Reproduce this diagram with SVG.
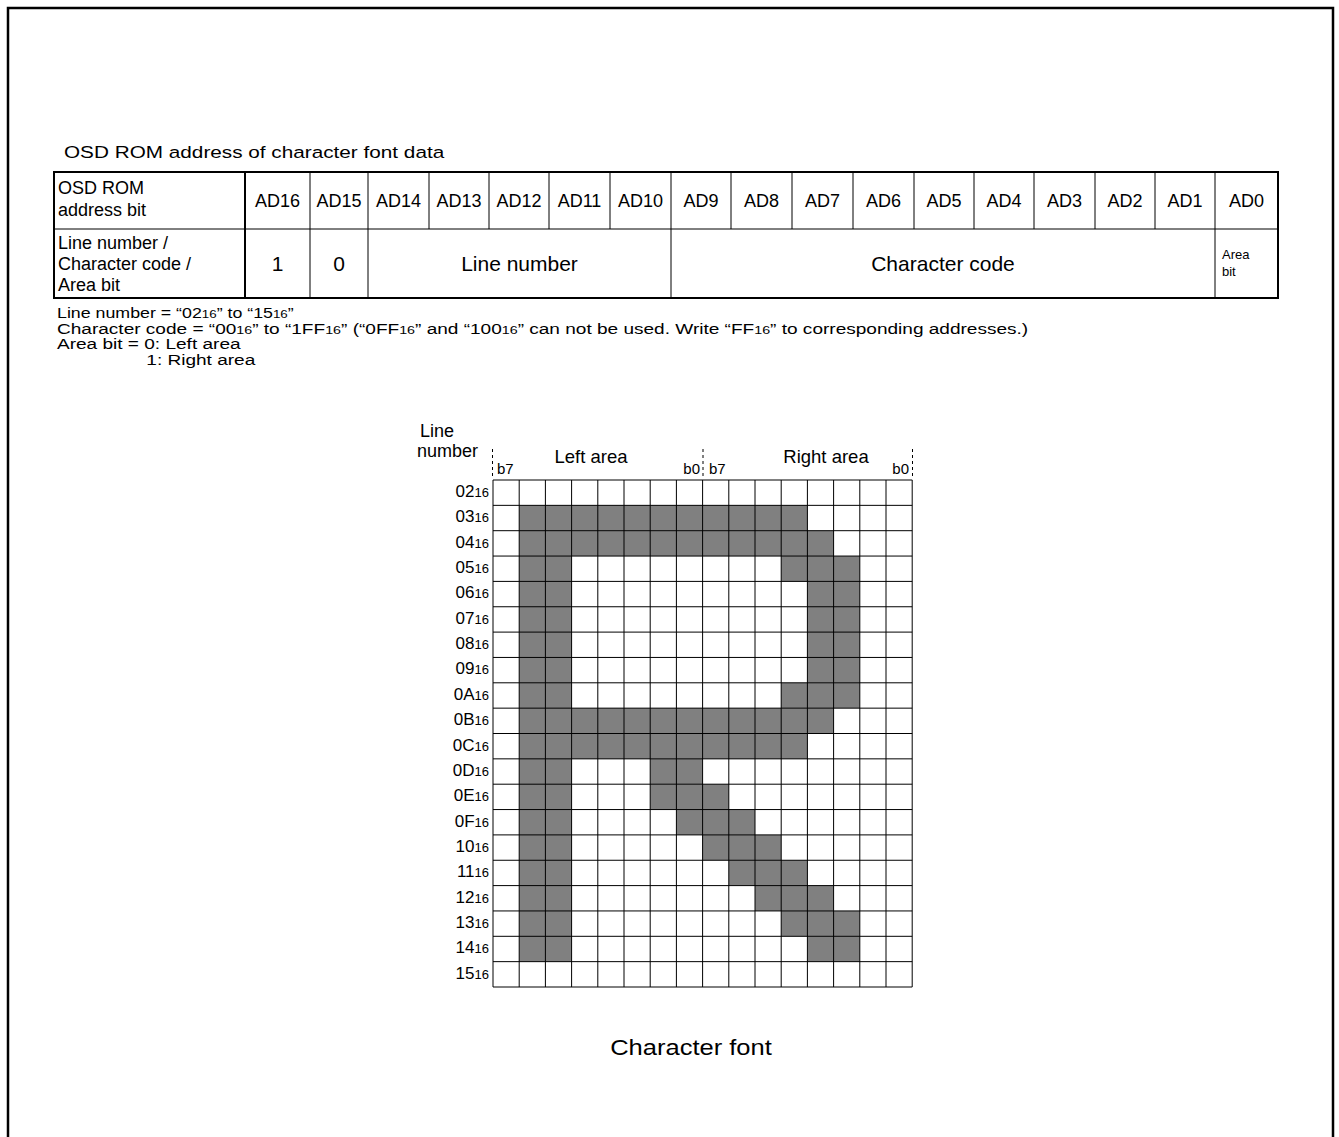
<svg xmlns="http://www.w3.org/2000/svg" width="1339" height="1137" viewBox="0 0 1339 1137">
<style>
text{font-family:"Liberation Sans",Arial,Helvetica,sans-serif;fill:#000}
.t18{font-size:18px}
.ad{font-size:18px;text-anchor:middle}
.big{font-size:21px;text-anchor:middle}
.note{font-size:14px}
.sub{font-size:10.5px}
.sub13{font-size:13px}
.small{font-size:13px}
.bit{font-size:15px}
.lbl{font-size:17px;text-anchor:end}
.hdr{font-size:18.5px;text-anchor:middle}
.thin{stroke:#000;stroke-width:1;fill:none}
.thick{stroke:#000;stroke-width:2;fill:none}
.dash{stroke:#000;stroke-width:1;stroke-dasharray:3 3;fill:none}
.on{fill:#808080}
</style>
<rect x="0" y="0" width="1339" height="1137" fill="#fff"/>
<g id="frame">
<path d="M8,1140 V8 H1333 V1140" stroke="#000" stroke-width="2.5" fill="none"/>
</g>
<g id="title">
<text transform="translate(64,158) scale(1.22,1)" style="font-size:17px">OSD ROM address of character font data</text>
</g>
<g id="address-table">
<rect x="54" y="172" width="1224" height="126" class="thick"/>
<path class="thin" d="M54,229 H1278 M310,172 V298 M368,172 V298 M671,172 V298 M1215,172 V298 M429,172 V229 M489,172 V229 M549,172 V229 M610,172 V229 M731,172 V229 M792,172 V229 M853,172 V229 M914,172 V229 M974,172 V229 M1034,172 V229 M1095,172 V229 M1155,172 V229"/>
<path class="thick" d="M245,172 V298"/>
<text class="t18" x="58" y="194">OSD ROM</text>
<text class="t18" x="58" y="216">address bit</text>
<text class="t18" x="58" y="249">Line number /</text>
<text class="t18" x="58" y="270">Character code /</text>
<text class="t18" x="58" y="291">Area bit</text>
<text class="ad" x="277.5" y="207">AD16</text>
<text class="ad" x="339" y="207">AD15</text>
<text class="ad" x="398.5" y="207">AD14</text>
<text class="ad" x="459" y="207">AD13</text>
<text class="ad" x="519" y="207">AD12</text>
<text class="ad" x="579.5" y="207">AD11</text>
<text class="ad" x="640.5" y="207">AD10</text>
<text class="ad" x="701" y="207">AD9</text>
<text class="ad" x="761.5" y="207">AD8</text>
<text class="ad" x="822.5" y="207">AD7</text>
<text class="ad" x="883.5" y="207">AD6</text>
<text class="ad" x="944" y="207">AD5</text>
<text class="ad" x="1004" y="207">AD4</text>
<text class="ad" x="1064.5" y="207">AD3</text>
<text class="ad" x="1125" y="207">AD2</text>
<text class="ad" x="1185" y="207">AD1</text>
<text class="ad" x="1246.5" y="207">AD0</text>
<text class="big" x="277.5" y="271">1</text>
<text class="big" x="339" y="271">0</text>
<text class="big" x="519.5" y="271">Line number</text>
<text class="big" x="943" y="271">Character code</text>
<text class="small" x="1222" y="259">Area</text>
<text class="small" x="1222" y="276">bit</text>
</g>
<g id="notes">
<text class="note" transform="translate(57,318) scale(1.27,1)">Line number = “02<tspan class="sub">16</tspan>” to “15<tspan class="sub">16</tspan>”</text>
<text class="note" transform="translate(57,333.7) scale(1.36,1)">Character code = “00<tspan class="sub">16</tspan>” to “1FF<tspan class="sub">16</tspan>” (“0FF<tspan class="sub">16</tspan>” and “100<tspan class="sub">16</tspan>” can not be used.  Write “FF<tspan class="sub">16</tspan>” to corresponding addresses.)</text>
<text class="note" transform="translate(57,349.4) scale(1.36,1)">Area bit = 0: Left area</text>
<text class="note" transform="translate(146.3,365.1) scale(1.36,1)">1: Right area</text>
</g>
<g id="font-grid">
<g id="grid-header">
<text style="font-size:18px" x="420" y="437">Line</text>
<text style="font-size:18px" x="417" y="457">number</text>
<path class="dash" d="M492.5,449 V476 M703,449 V476 M912.5,449 V476"/>
<text class="bit" x="497" y="474">b7</text>
<text class="hdr" x="591" y="463">Left area</text>
<text class="bit" x="700" y="474" text-anchor="end">b0</text>
<text class="bit" x="709" y="474">b7</text>
<text class="hdr" x="826" y="463">Right area</text>
<text class="bit" x="909" y="474" text-anchor="end">b0</text>
</g>
<g id="pixels">
<rect class="on" x="519.2" y="505.35" width="52.4" height="456.3"/>
<rect class="on" x="571.6" y="505.35" width="235.8" height="25.35"/>
<rect class="on" x="571.6" y="530.7" width="262" height="25.35"/>
<rect class="on" x="781.2" y="556.05" width="78.6" height="25.35"/>
<rect class="on" x="807.4" y="581.4" width="52.4" height="101.4"/>
<rect class="on" x="781.2" y="682.8" width="78.6" height="25.35"/>
<rect class="on" x="571.6" y="708.15" width="262" height="25.35"/>
<rect class="on" x="571.6" y="733.5" width="235.8" height="25.35"/>
<rect class="on" x="650.2" y="758.85" width="52.4" height="25.35"/>
<rect class="on" x="650.2" y="784.2" width="78.6" height="25.35"/>
<rect class="on" x="676.4" y="809.55" width="78.6" height="25.35"/>
<rect class="on" x="702.6" y="834.9" width="78.6" height="25.35"/>
<rect class="on" x="728.8" y="860.25" width="78.6" height="25.35"/>
<rect class="on" x="755" y="885.6" width="78.6" height="25.35"/>
<rect class="on" x="781.2" y="910.95" width="78.6" height="25.35"/>
<rect class="on" x="807.4" y="936.3" width="52.4" height="25.35"/>
</g>
<path id="grid-lines" class="thin" d="M493,480 V987 M519.2,480 V987 M545.4,480 V987 M571.6,480 V987 M597.8,480 V987 M624,480 V987 M650.2,480 V987 M676.4,480 V987 M702.6,480 V987 M728.8,480 V987 M755,480 V987 M781.2,480 V987 M807.4,480 V987 M833.6,480 V987 M859.8,480 V987 M886,480 V987 M912.2,480 V987 M493,480 H912.2 M493,505.35 H912.2 M493,530.7 H912.2 M493,556.05 H912.2 M493,581.4 H912.2 M493,606.75 H912.2 M493,632.1 H912.2 M493,657.45 H912.2 M493,682.8 H912.2 M493,708.15 H912.2 M493,733.5 H912.2 M493,758.85 H912.2 M493,784.2 H912.2 M493,809.55 H912.2 M493,834.9 H912.2 M493,860.25 H912.2 M493,885.6 H912.2 M493,910.95 H912.2 M493,936.3 H912.2 M493,961.65 H912.2 M493,987 H912.2"/>
<g id="row-labels">
<text class="lbl" x="489" y="497">02<tspan class="sub13">16</tspan></text>
<text class="lbl" x="489" y="522.35">03<tspan class="sub13">16</tspan></text>
<text class="lbl" x="489" y="547.7">04<tspan class="sub13">16</tspan></text>
<text class="lbl" x="489" y="573.05">05<tspan class="sub13">16</tspan></text>
<text class="lbl" x="489" y="598.4">06<tspan class="sub13">16</tspan></text>
<text class="lbl" x="489" y="623.75">07<tspan class="sub13">16</tspan></text>
<text class="lbl" x="489" y="649.1">08<tspan class="sub13">16</tspan></text>
<text class="lbl" x="489" y="674.45">09<tspan class="sub13">16</tspan></text>
<text class="lbl" x="489" y="699.8">0A<tspan class="sub13">16</tspan></text>
<text class="lbl" x="489" y="725.15">0B<tspan class="sub13">16</tspan></text>
<text class="lbl" x="489" y="750.5">0C<tspan class="sub13">16</tspan></text>
<text class="lbl" x="489" y="775.85">0D<tspan class="sub13">16</tspan></text>
<text class="lbl" x="489" y="801.2">0E<tspan class="sub13">16</tspan></text>
<text class="lbl" x="489" y="826.55">0F<tspan class="sub13">16</tspan></text>
<text class="lbl" x="489" y="851.9">10<tspan class="sub13">16</tspan></text>
<text class="lbl" x="489" y="877.25">11<tspan class="sub13">16</tspan></text>
<text class="lbl" x="489" y="902.6">12<tspan class="sub13">16</tspan></text>
<text class="lbl" x="489" y="927.95">13<tspan class="sub13">16</tspan></text>
<text class="lbl" x="489" y="953.3">14<tspan class="sub13">16</tspan></text>
<text class="lbl" x="489" y="978.65">15<tspan class="sub13">16</tspan></text>
</g>
</g>
<g id="caption">
<text transform="translate(691,1055) scale(1.16,1)" style="font-size:22px" text-anchor="middle">Character font</text>
</g>
</svg>
